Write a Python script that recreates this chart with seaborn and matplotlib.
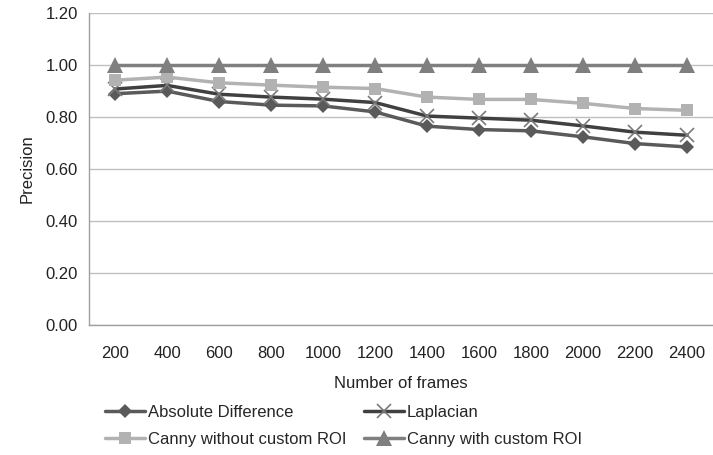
import matplotlib
matplotlib.use("Agg")
import matplotlib.pyplot as plt
import seaborn as sns
import pandas as pd
import numpy as np

frames = ["200", "400", "600", "800", "1000", "1200", "1400", "1600", "1800", "2000", "2200", "2400"]
abs_diff = [0.89, 0.90, 0.86, 0.846, 0.843, 0.82, 0.765, 0.752, 0.747, 0.724, 0.698, 0.685]
laplacian = [0.908, 0.922, 0.888, 0.877, 0.869, 0.856, 0.804, 0.796, 0.788, 0.766, 0.742, 0.73]
canny_no_roi = [0.942, 0.954, 0.932, 0.923, 0.915, 0.91, 0.877, 0.868, 0.868, 0.853, 0.833, 0.826]
canny_roi = [1.0] * 12

names = ["Absolute Difference", "Laplacian", "Canny without custom ROI", "Canny with custom ROI"]
series = [abs_diff, laplacian, canny_no_roi, canny_roi]

rows = []
for n, vals in zip(names, series):
    for i, v in enumerate(vals):
        rows.append({"pos": i, "Precision": v, "Series": n})
df = pd.DataFrame(rows)

sns.set_theme(style="white")
plt.rcParams['font.family'] = ['Liberation Sans', 'DejaVu Sans']

fig = plt.figure(figsize=(7.13, 4.55), dpi=100)
ax = fig.add_axes([0.125, 0.286, 0.875, 0.685])

colors = {"Absolute Difference": "#5a5a5a", "Laplacian": "#404040",
          "Canny without custom ROI": "#b2b2b2", "Canny with custom ROI": "#7f7f7f"}
markers = {"Absolute Difference": "D", "Laplacian": "x",
           "Canny without custom ROI": "s", "Canny with custom ROI": "^"}
msizes = {"Absolute Difference": 7, "Laplacian": 10, "Canny without custom ROI": 9, "Canny with custom ROI": 11}

handles = {}
for n in names:
    sub = df[df["Series"] == n]
    sns.lineplot(data=sub, x="pos", y="Precision", ax=ax, color=colors[n],
                 marker=markers[n], markersize=msizes[n], linewidth=2.5,
                 markeredgewidth=1.2 if n == "Laplacian" else 0,
                 markeredgecolor="#7a7a7a" if n == "Laplacian" else colors[n],
                 label=n, zorder=3)
    handles[n] = ax.get_lines()[-1]

ax.set_xlim(-0.5, 11.5)
ax.set_ylim(0, 1.2)
ax.set_yticks(np.arange(0, 1.21, 0.2))
ax.set_yticklabels([f"{v:.2f}" for v in np.arange(0, 1.21, 0.2)])
ax.set_xticks(range(len(frames)))
ax.set_xticklabels(frames)
ax.yaxis.grid(True, color="#c0c0c0", linewidth=1)
ax.xaxis.grid(False)
for s in ["top", "right"]:
    ax.spines[s].set_visible(False)
for s in ["left", "bottom"]:
    ax.spines[s].set_color("#a0a0a0")
    ax.spines[s].set_linewidth(1)
ax.tick_params(axis="both", labelsize=12, colors="#222222", length=0, pad=8)
ax.tick_params(axis="x", pad=15)
ax.set_xlabel("Number of frames", fontsize=12, color="#222222", labelpad=11)
ax.set_ylabel("Precision", fontsize=12, color="#222222", labelpad=8)

order = ["Absolute Difference", "Canny without custom ROI", "Laplacian", "Canny with custom ROI"]
ax.legend([handles[n] for n in order], order, loc="upper left",
          bbox_to_anchor=(0.015, -0.235), ncol=2, frameon=False,
          fontsize=12, handlelength=2.4, handletextpad=0.15, columnspacing=1.1,
          labelspacing=0.75, borderaxespad=0)

fig.savefig("out.png", dpi=100)
